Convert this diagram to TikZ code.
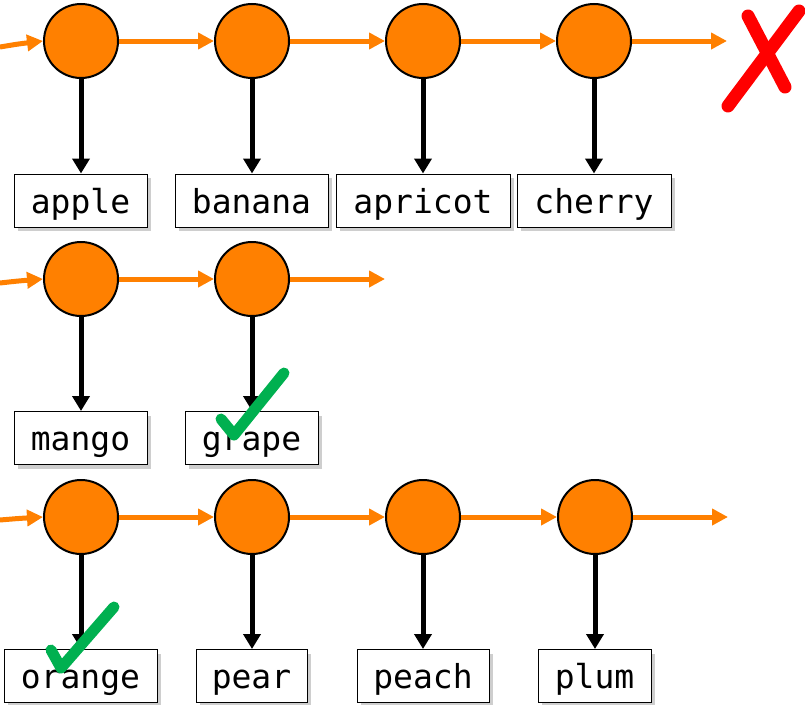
\documentclass[tikz,border=0pt]{standalone}
\usepackage{fontspec}
\newfontfamily\monofnt{DejaVu Sans Mono}
\usetikzlibrary{arrows.meta,shadows}
\definecolor{orng}{HTML}{FF8000}
\definecolor{chkgreen}{HTML}{00B050}
\definecolor{xred}{HTML}{FF0000}
\begin{document}
\begin{tikzpicture}[x=1pt,y=-1pt,
  listnode/.style={circle,draw=black,line width=2pt,fill=orng,minimum size=74pt,inner sep=0pt},
  valbox/.style={draw=black,line width=1pt,fill=white,minimum height=53pt,inner sep=0pt,
    text height=28pt,text depth=3pt,
    font=\monofnt\fontsize{33}{40}\selectfont,
    drop shadow={shadow xshift=4pt,shadow yshift=-4pt,opacity=0.35,fill=black!55}},
  nextarrow/.style={draw=orng,line width=5pt,-{Triangle[length=16pt,width=16pt]}},
  valarrow/.style={draw=black,line width=5pt,-{Triangle[length=15pt,width=17pt]}},
  check/.style={draw=chkgreen,line width=11pt,line cap=round,line join=round},
  cross/.style={draw=xred,line width=13pt,line cap=round}
]
\useasboundingbox (0,0) rectangle (805,704);

% ---------- Row 1 ----------
\node[listnode] (a1) at (81,41) {};
\node[listnode] (a2) at (252,41) {};
\node[listnode] (a3) at (423,41) {};
\node[listnode] (a4) at (594,41) {};
\node[valbox,minimum width=133pt] (b1) at (80.5,200.5) {apple};
\node[valbox,minimum width=153pt] (b2) at (251.5,200.5) {banana};
\node[valbox,minimum width=174pt] (b3) at (423,200.5) {apricot};
\node[valbox,minimum width=154pt] (b4) at (594,200.5) {cherry};
\coordinate (s1) at (0,47);
\coordinate (e1) at (727,41);
\draw[nextarrow] (s1) .. controls (18,44) .. (a1.west);
\draw[nextarrow] (a1) -- (a2);
\draw[nextarrow] (a2) -- (a3);
\draw[nextarrow] (a3) -- (a4);
\draw[nextarrow] (a4) -- (e1);
\draw[valarrow] (a1) -- (b1.north -| a1);
\draw[valarrow] (a2) -- (b2.north -| a2);
\draw[valarrow] (a3) -- (b3.north -| a3);
\draw[valarrow] (a4) -- (b4.north -| a4);
\coordinate (x1) at (748,16);
\coordinate (x2) at (785,87);
\coordinate (x3) at (799,11);
\coordinate (x4) at (728,106);
\draw[cross] (x1) -- (x2);
\draw[cross] (x3) -- (x4);

% ---------- Row 2 ----------
\node[listnode] (m1) at (81,279) {};
\node[listnode] (m2) at (252,279) {};
\node[valbox,minimum width=133pt] (n1) at (80.5,438) {mango};
\node[valbox,minimum width=133pt] (n2) at (251.5,438) {grape};
\coordinate (s2) at (0,283);
\coordinate (e2) at (385,279);
\draw[nextarrow] (s2) .. controls (18,281) .. (m1.west);
\draw[nextarrow] (m1) -- (m2);
\draw[nextarrow] (m2) -- (e2);
\draw[valarrow] (m1) -- (n1.north -| m1);
\draw[valarrow] (m2) -- (n2.north -| m2);

% ---------- Row 3 ----------
\node[listnode] (p1) at (81,517) {};
\node[listnode] (p2) at (252,517) {};
\node[listnode] (p3) at (423,517) {};
\node[listnode] (p4) at (595,517) {};
\node[valbox,minimum width=153pt] (q1) at (80.5,676) {orange};
\node[valbox,minimum width=111pt] (q2) at (251.5,676) {pear};
\node[valbox,minimum width=132pt] (q3) at (423,676) {peach};
\node[valbox,minimum width=113pt] (q4) at (594.5,676) {plum};
\coordinate (s3) at (0,520);
\coordinate (e3) at (728,517);
\draw[nextarrow] (s3) .. controls (18,518.5) .. (p1.west);
\draw[nextarrow] (p1) -- (p2);
\draw[nextarrow] (p2) -- (p3);
\draw[nextarrow] (p3) -- (p4);
\draw[nextarrow] (p4) -- (e3);
\draw[valarrow] (p1) -- (q1.north -| p1);
\draw[valarrow] (p2) -- (q2.north -| p2);
\draw[valarrow] (p3) -- (q3.north -| p3);
\draw[valarrow] (p4) -- (q4.north -| p4);

% ---------- check marks ----------
\coordinate (c1a) at (221,419);
\coordinate (c1b) at (234,435);
\coordinate (c1c) at (284,373);
\draw[check] (c1a) -- (c1b) -- (c1c);
\coordinate (c2a) at (51,650);
\coordinate (c2b) at (61,668);
\coordinate (c2c) at (114,607);
\draw[check] (c2a) -- (c2b) -- (c2c);
\end{tikzpicture}
\end{document}
